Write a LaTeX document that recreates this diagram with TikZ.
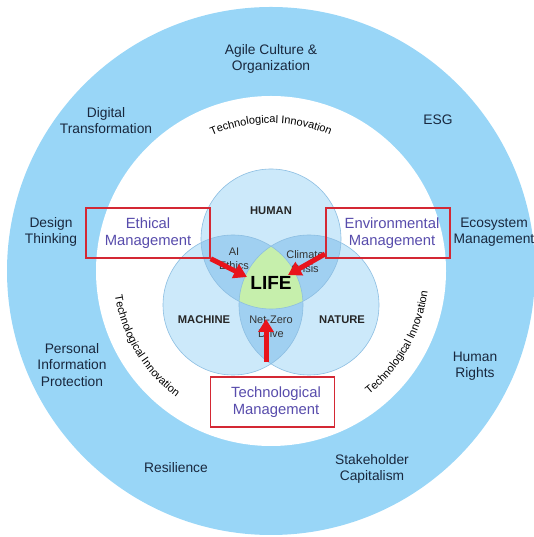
\documentclass[tikz,border=0pt]{standalone}
\usepackage{fontspec}
\setmainfont{Liberation Sans}
\usetikzlibrary{arrows.meta,decorations.text,calc}
\definecolor{ringblue}{RGB}{153,214,247}
\definecolor{vsingle}{RGB}{204,233,250}
\definecolor{vdouble}{RGB}{160,208,241}
\definecolor{lifegreen}{RGB}{198,239,172}
\definecolor{vline}{RGB}{140,190,226}
\definecolor{outtext}{RGB}{25,40,62}
\definecolor{boxtext}{RGB}{88,76,172}
\definecolor{boxred}{RGB}{212,40,52}
\definecolor{arrred}{RGB}{232,20,28}
\newcommand\tinnfont{\fontsize{11}{13}\selectfont}
\begin{document}
\begin{tikzpicture}[x=1pt,y=1pt,
  outlabel/.style={align=center,text=outtext,font=\fontsize{13.8}{16.5}\selectfont,inner sep=0pt},
  vennlabel/.style={align=center,text=black!85,font=\bfseries\fontsize{11.2}{13}\selectfont,inner sep=0pt},
  smalllabel/.style={align=center,text=black!80,font=\fontsize{11}{13.5}\selectfont,inner sep=0pt},
  mbox/.style={draw=boxred,line width=1.5pt,minimum width=124pt,minimum height=50pt,inner sep=0pt,align=center,text=boxtext,font=\fontsize{14.8}{17.5}\selectfont},
  redarrow/.style={draw=arrred,line width=5pt,-{Triangle[length=13pt,width=15pt]},fill=arrred},
  vcircle/.style={draw=vline,line width=0.6pt},
  curvetext/.style={decorate,decoration={text along path,text={|\tinnfont|Technological Innovation},text align=center}}
]
\useasboundingbox (0,0) rectangle (534,537);
\clip (0,0) rectangle (534,537);
\coordinate (C) at (271,266);
\fill[ringblue] (C) circle (264);
\fill[white] (C) circle (175);
% Venn
\coordinate (H) at (271,298);
\coordinate (M) at (233,232);
\coordinate (N) at (309,232);
\fill[vsingle] (H) circle (70);
\fill[vsingle] (M) circle (70);
\fill[vsingle] (N) circle (70);
\begin{scope}
  \clip (H) circle (70);
  \fill[vdouble] (M) circle (70);
  \fill[vdouble] (N) circle (70);
\end{scope}
\begin{scope}
  \clip (M) circle (70);
  \fill[vdouble] (N) circle (70);
\end{scope}
\begin{scope}
  \clip (H) circle (70);
  \clip (M) circle (70);
  \fill[lifegreen] (N) circle (70);
\end{scope}
\draw[vcircle] (H) circle (70);
\draw[vcircle] (M) circle (70);
\draw[vcircle] (N) circle (70);
% curved texts
\path[curvetext] ($(C)+(114:148)$) arc[start angle=114,end angle=66,radius=148];
\path[curvetext] ($(C)+(187:158)$) arc[start angle=187,end angle=235,radius=158];
\path[curvetext] ($(C)+(-53:158)$) arc[start angle=-53,end angle=-6,radius=158];
% outer labels
\node[outlabel] (agile) at (271,478) {Agile Culture \&\\Organization};
\node[outlabel] (digital) at (106,416.5) {Digital\\Transformation};
\node[outlabel] (esg) at (438,417) {ESG};
\node[outlabel] (design) at (51,305) {Design\\Thinking};
\node[outlabel] (eco) at (494,305) {Ecosystem\\Management};
\node[outlabel] (pip) at (72,172) {Personal\\Information\\Protection};
\node[outlabel] (hr) at (475,171) {Human\\Rights};
\node[outlabel] (res) at (176,69) {Resilience};
\node[outlabel] (stake) at (372,68) {Stakeholder\\Capitalism};
% venn labels
\node[vennlabel] (human) at (271,326) {HUMAN};
\node[vennlabel] (machine) at (204,217) {MACHINE};
\node[vennlabel] (nature) at (342,217) {NATURE};
\node[smalllabel] (ai) at (234,278) {AI\\Ethics};
\node[smalllabel] (climate) at (305,275.5) {Climate\\Crisis};
\node[smalllabel] (netzero) at (271,210) {Net-Zero\\Drive};
\node[inner sep=0pt,font=\bfseries\fontsize{19}{21}\selectfont] (life) at (271,254) {LIFE};
% boxes
\node[mbox] (eth) at (148,304) {Ethical\\Management};
\node[mbox] (env) at (388,304) {\hspace*{8pt}Environmental\\\hspace*{8pt}Management};
\node[mbox] (tech) at (272.5,135) {\hspace*{7pt}Technological\\\hspace*{7pt}Management};
% arrows
\coordinate (envS) at (325,283);
\coordinate (techS) at (266,175);
\coordinate (lifeW) at (247,260);
\coordinate (lifeE) at (288,262);
\coordinate (lifeS) at (266,218);
\draw[redarrow] (eth.south east) -- (lifeW);
\draw[redarrow] (envS) -- (lifeE);
\draw[redarrow] (techS) -- (lifeS);
\end{tikzpicture}
\end{document}
